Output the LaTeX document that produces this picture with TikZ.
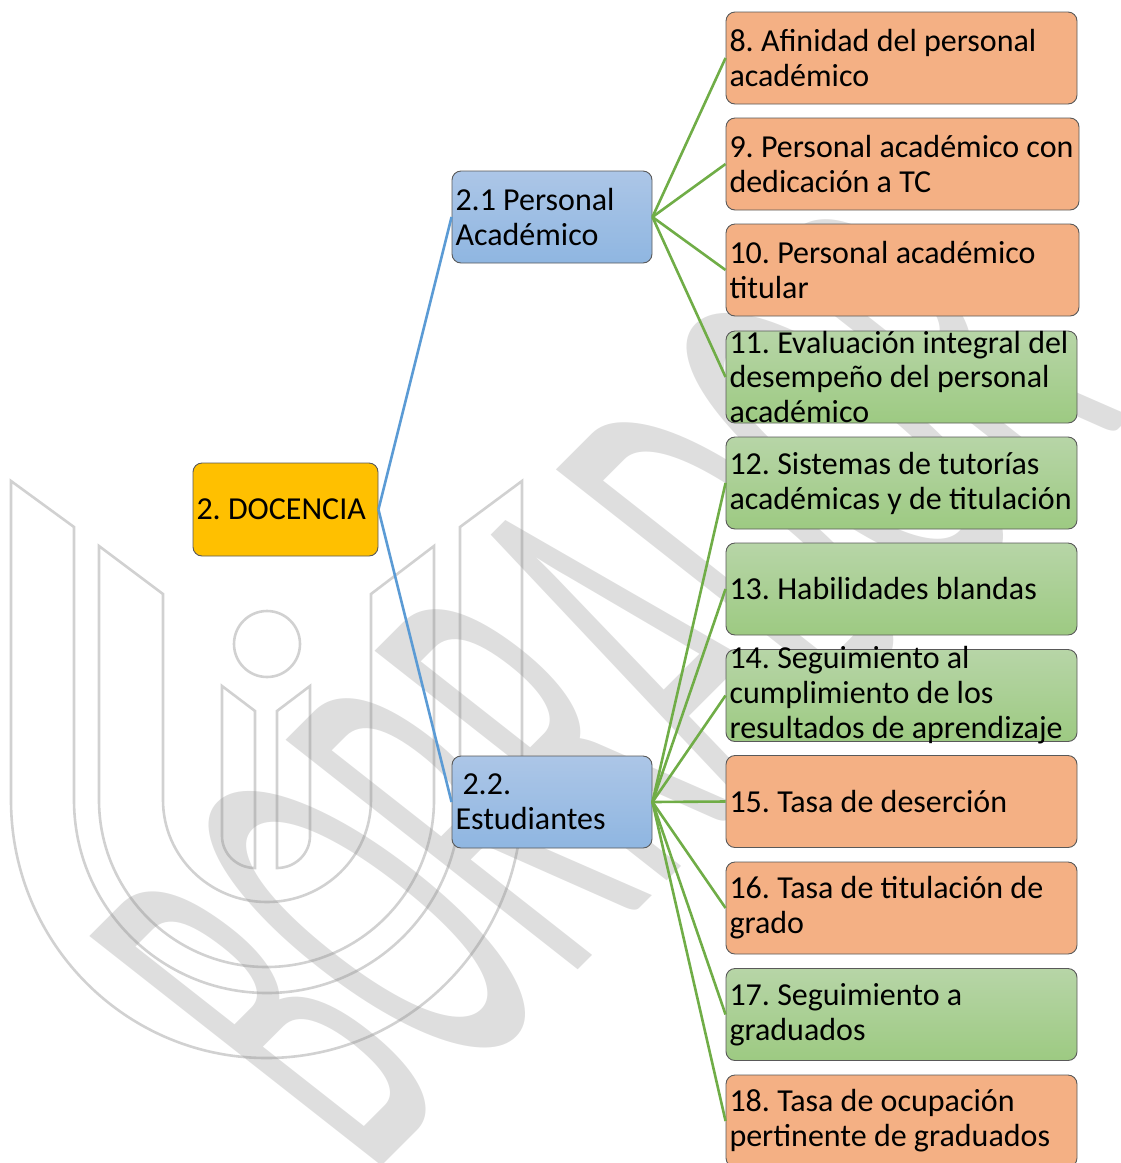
\documentclass[tikz,border=0pt]{standalone}
\usepackage{fontspec}
\setmainfont{Carlito}
\definecolor{orangebox}{RGB}{244,176,132}
\definecolor{yellowbox}{RGB}{255,192,0}
\definecolor{greentop}{RGB}{183,213,167}
\definecolor{greenbot}{RGB}{157,202,130}
\definecolor{bluetop}{RGB}{172,198,231}
\definecolor{bluebot}{RGB}{143,182,225}
\definecolor{greenline}{RGB}{112,173,71}
\definecolor{blueline}{RGB}{91,155,213}
\definecolor{markgray}{RGB}{222,222,222}
\frenchspacing
\begin{document}
\begin{tikzpicture}[x=1pt,y=-1pt,
boxnode/.style={rectangle, draw=black!65, line width=0.9pt, rounded corners=9pt, align=flush left, inner xsep=3.5pt, inner ysep=-15pt, font=\fontsize{32}{35}\selectfont},
rootnode/.style={boxnode, fill=yellowbox, minimum width=185pt, minimum height=93pt, text width=178pt},
subnode/.style={boxnode, top color=bluetop, bottom color=bluebot, minimum width=200pt, minimum height=92pt, text width=193pt},
orangenode/.style={boxnode, fill=orangebox, minimum width=351pt, minimum height=92pt, text width=344pt},
widenode/.style={orangenode, minimum width=353pt, text width=346pt},
greennode/.style={boxnode, top color=greentop, bottom color=greenbot, minimum width=351pt, minimum height=92pt, text width=344pt},
wmline/.style={draw=black!45, line width=2.6pt, opacity=0.4},
blueedge/.style={draw=blueline, line width=2.6pt},
greenedge/.style={draw=greenline, line width=2.6pt},
]
\clip (0,0) rectangle (1121,1163);
%Watermark
\node[text=markgray, rotate=45, xslant=-0.12, xscale=0.40, font=\fontsize{575}{575}\selectfont] (wmtext) at (606,681) {BORRADOR};
\draw[wmline] (11,481) -- (74,527) -- (74,800) arc[start angle=180, end angle=0, x radius=193, y radius=193] -- (460,527) -- (522,481) -- (522,800) arc[start angle=0, end angle=180, x radius=255.5, y radius=258] -- cycle;
\draw[wmline] (99,546) -- (163,594) -- (163,800) arc[start angle=180, end angle=0, x radius=104, y radius=102] -- (371,594) -- (434,546) -- (434,800) arc[start angle=0, end angle=180, x radius=167.5, y radius=167] -- cycle;
\draw[wmline] (222,686) -- (255,711) -- (255,868) arc[start angle=90, end angle=180, x radius=33, y radius=32] -- cycle;
\draw[wmline] (310,686) -- (277,711) -- (277,868) arc[start angle=90, end angle=0, x radius=33, y radius=32] -- cycle;
\draw[wmline] (267,644) circle[radius=33];
%Nodes
\node[rootnode]   (doc)    at (285.5,509.5) {2. DOCENCIA};
\node[subnode]    (sub1)   at (552,217) {2.1 Personal\\Académico};
\node[subnode]    (sub2)   at (552,802) {\hspace*{7pt}2.2.\\Estudiantes};
\node[orangenode] (ind8)   at (901.5,58) {8. Afinidad del personal\\académico};
\node[widenode]   (ind9)   at (902.5,164) {9. Personal académico con\\dedicación a TC};
\node[widenode]   (ind10)  at (902.5,270) {10. Personal académico\\titular};
\node[greennode]  (ind11)  at (901.5,377) {11. Evaluación integral del\\desempeño del personal\\académico};
\node[greennode]  (ind12)  at (901.5,483) {12. Sistemas de tutorías\\académicas y de titulación};
\node[greennode]  (ind13)  at (901.5,589) {13. Habilidades blandas};
\node[greennode]  (ind14)  at (901.5,695.5) {14. Seguimiento al\\cumplimiento de los\\resultados de aprendizaje};
\node[orangenode] (ind15)  at (901.5,801.5) {15. Tasa de deserción};
\node[orangenode] (ind16)  at (901.5,908) {16. Tasa de titulación de\\grado};
\node[greennode]  (ind17)  at (901.5,1014.5) {17. Seguimiento a\\graduados};
\node[orangenode] (ind18)  at (901.5,1121) {18. Tasa de ocupación\\pertinente de graduados};

%Lines
\draw[blueedge] (doc.east) -- (sub1.west);
\draw[blueedge] (doc.east) -- (sub2.west);
\draw[greenedge] (sub1.east) -- (ind8.west);
\draw[greenedge] (sub1.east) -- (ind9.west);
\draw[greenedge] (sub1.east) -- (ind10.west);
\draw[greenedge] (sub1.east) -- (ind11.west);
\draw[greenedge] (sub2.east) -- (ind12.west);
\draw[greenedge] (sub2.east) -- (ind13.west);
\draw[greenedge] (sub2.east) -- (ind14.west);
\draw[greenedge] (sub2.east) -- (ind15.west);
\draw[greenedge] (sub2.east) -- (ind16.west);
\draw[greenedge] (sub2.east) -- (ind17.west);
\draw[greenedge] (sub2.east) -- (ind18.west);
\end{tikzpicture}
\end{document}
